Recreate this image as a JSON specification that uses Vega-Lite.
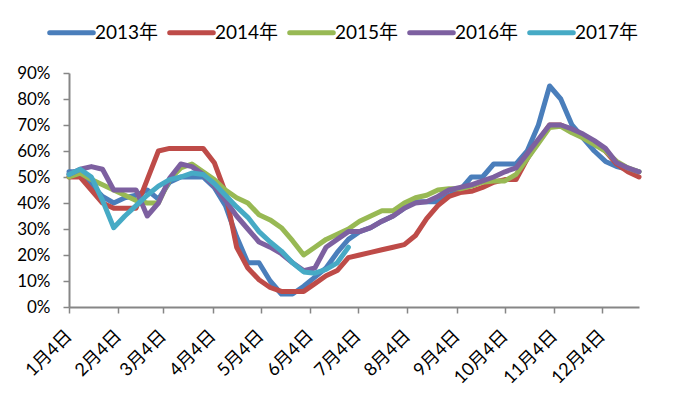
{
  "$schema": "https://vega.github.io/schema/vega-lite/v6.json",
  "width": 570,
  "height": 234,
  "autosize": "none",
  "padding": {"left": 69, "top": 73, "right": 41, "bottom": 99},
  "background": "white",
  "config": {
    "view": {"stroke": null},
    "font": "Lato",
    "axis": {
      "grid": false,
      "domainColor": "#868686",
      "domainWidth": 2,
      "tickColor": "#868686",
      "tickWidth": 1.5,
      "tickSize": 6,
      "labelColor": "#000000",
      "labelFont": "Lato, Noto Sans CJK SC",
      "labelFontSize": 17,
      "title": null
    }
  },
  "data": {
    "values": [
      {"date": "2001-01-04", "2013年": 52, "2014年": 50, "2015年": 50, "2016年": 51, "2017年": 51},
      {"date": "2001-01-11", "2013年": 52, "2014年": 50, "2015年": 51.5, "2016年": 53, "2017年": 53},
      {"date": "2001-01-18", "2013年": 47, "2014年": 45, "2015年": 49, "2016年": 54, "2017年": 50},
      {"date": "2001-01-25", "2013年": 42.5, "2014年": 40, "2015年": 47, "2016年": 53, "2017年": 41},
      {"date": "2001-02-01", "2013年": 40, "2014年": 38, "2015年": 45, "2016年": 45, "2017年": 30.5},
      {"date": "2001-02-08", "2013年": 42, "2014年": 38, "2015年": 43, "2016年": 45, "2017年": 35},
      {"date": "2001-02-15", "2013年": 43, "2014年": 38, "2015年": 41, "2016年": 45, "2017年": 39},
      {"date": "2001-02-22", "2013年": 45, "2014年": 49, "2015年": 40, "2016年": 35, "2017年": 43},
      {"date": "2001-03-01", "2013年": 41.5, "2014年": 60, "2015年": 40, "2016年": 40, "2017年": 46.5},
      {"date": "2001-03-08", "2013年": 48, "2014年": 61, "2015年": 49, "2016年": 49.5, "2017年": 49},
      {"date": "2001-03-15", "2013年": 50, "2014年": 61, "2015年": 53.5, "2016年": 55, "2017年": 50},
      {"date": "2001-03-22", "2013年": 50, "2014年": 61, "2015年": 55, "2016年": 54, "2017年": 51.5},
      {"date": "2001-03-29", "2013年": 50, "2014年": 61, "2015年": 52, "2016年": 51, "2017年": 51},
      {"date": "2001-04-05", "2013年": 46, "2014年": 55.5, "2015年": 49, "2016年": 46.5, "2017年": 47.5},
      {"date": "2001-04-12", "2013年": 39, "2014年": 44, "2015年": 45, "2016年": 41, "2017年": 43},
      {"date": "2001-04-19", "2013年": 27, "2014年": 23, "2015年": 42, "2016年": 35, "2017年": 38.5},
      {"date": "2001-04-26", "2013年": 17, "2014年": 15, "2015年": 40, "2016年": 30, "2017年": 34.5},
      {"date": "2001-05-03", "2013年": 17, "2014年": 10.5, "2015年": 35.5, "2016年": 25, "2017年": 29},
      {"date": "2001-05-10", "2013年": 10, "2014年": 7.5, "2015年": 33.5, "2016年": 23, "2017年": 25},
      {"date": "2001-05-17", "2013年": 5, "2014年": 6, "2015年": 30.5, "2016年": 20.5, "2017年": 21.5},
      {"date": "2001-05-24", "2013年": 5, "2014年": 6, "2015年": 25.5, "2016年": 17, "2017年": 17},
      {"date": "2001-05-31", "2013年": 8, "2014年": 6, "2015年": 20, "2016年": 14, "2017年": 13.5},
      {"date": "2001-06-07", "2013年": 11.5, "2014年": 9, "2015年": 23, "2016年": 15, "2017年": 13},
      {"date": "2001-06-14", "2013年": 15, "2014年": 12, "2015年": 26, "2016年": 23, "2017年": 14.5},
      {"date": "2001-06-21", "2013年": 21, "2014年": 14, "2015年": 28, "2016年": 26, "2017年": 17},
      {"date": "2001-06-28", "2013年": 26, "2014年": 19, "2015年": 30, "2016年": 29, "2017年": 23},
      {"date": "2001-07-05", "2013年": 29, "2014年": 20, "2015年": 33, "2016年": 29, "2017年": null},
      {"date": "2001-07-12", "2013年": 30.5, "2014年": 21, "2015年": 35, "2016年": 30.5, "2017年": null},
      {"date": "2001-07-19", "2013年": 33, "2014年": 22, "2015年": 37, "2016年": 33, "2017年": null},
      {"date": "2001-07-26", "2013年": 35, "2014年": 23, "2015年": 37, "2016年": 35, "2017年": null},
      {"date": "2001-08-02", "2013年": 38, "2014年": 24, "2015年": 40, "2016年": 38, "2017年": null},
      {"date": "2001-08-09", "2013年": 40.5, "2014年": 27.5, "2015年": 42, "2016年": 40, "2017年": null},
      {"date": "2001-08-16", "2013年": 40.5, "2014年": 34, "2015年": 43, "2016年": 40.5, "2017年": null},
      {"date": "2001-08-23", "2013年": 40.5, "2014年": 39, "2015年": 45, "2016年": 42.5, "2017年": null},
      {"date": "2001-08-30", "2013年": 43, "2014年": 42.5, "2015年": 45.5, "2016年": 45, "2017年": null},
      {"date": "2001-09-06", "2013年": 45, "2014年": 44, "2015年": 45.5, "2016年": 46, "2017年": null},
      {"date": "2001-09-13", "2013年": 50, "2014年": 44.5, "2015年": 46.5, "2016年": 47, "2017年": null},
      {"date": "2001-09-20", "2013年": 50, "2014年": 46, "2015年": 48, "2016年": 48.5, "2017年": null},
      {"date": "2001-09-27", "2013年": 55, "2014年": 48, "2015年": 48.5, "2016年": 50, "2017年": null},
      {"date": "2001-10-04", "2013年": 55, "2014年": 49, "2015年": 48.5, "2016年": 52, "2017年": null},
      {"date": "2001-10-11", "2013年": 55, "2014年": 49, "2015年": 51, "2016年": 53.5, "2017年": null},
      {"date": "2001-10-18", "2013年": 60, "2014年": 57, "2015年": 57, "2016年": 59, "2017年": null},
      {"date": "2001-10-25", "2013年": 70, "2014年": 64, "2015年": 63, "2016年": 64.5, "2017年": null},
      {"date": "2001-11-01", "2013年": 85, "2014年": 70, "2015年": 69, "2016年": 70, "2017年": null},
      {"date": "2001-11-08", "2013年": 80, "2014年": 70, "2015年": 69.5, "2016年": 70, "2017年": null},
      {"date": "2001-11-15", "2013年": 70, "2014年": 68, "2015年": 67, "2016年": 68.5, "2017年": null},
      {"date": "2001-11-22", "2013年": 65, "2014年": 66, "2015年": 65, "2016年": 66.5, "2017年": null},
      {"date": "2001-11-29", "2013年": 60, "2014年": 63, "2015年": 62.5, "2016年": 64, "2017年": null},
      {"date": "2001-12-06", "2013年": 56, "2014年": 60, "2015年": 60, "2016年": 61, "2017年": null},
      {"date": "2001-12-13", "2013年": 54, "2014年": 55, "2015年": 56, "2016年": 55.5, "2017年": null},
      {"date": "2001-12-20", "2013年": 53, "2014年": 52, "2015年": 53.5, "2016年": 53.5, "2017年": null},
      {"date": "2001-12-27", "2013年": 52, "2014年": 50, "2015年": 52, "2016年": 52, "2017年": null}
    ]
  },
  "transform": [
    {"fold": ["2013年", "2014年", "2015年", "2016年", "2017年"], "as": ["series", "value"]},
    {"filter": "isValid(datum.value)"}
  ],
  "mark": {"type": "line", "strokeWidth": 5, "strokeJoin": "round", "strokeCap": "round"},
  "encoding": {
    "x": {
      "field": "date",
      "type": "temporal",
      "scale": {
        "type": "utc",
        "domain": [
          {"year": 2001, "month": 1, "date": 4, "utc": true},
          {"year": 2001, "month": 12, "date": 27, "utc": true}
        ]
      },
      "axis": {
        "values": [
          {"year": 2001, "month": 1, "date": 4, "utc": true},
          {"year": 2001, "month": 2, "date": 4, "utc": true},
          {"year": 2001, "month": 3, "date": 4, "utc": true},
          {"year": 2001, "month": 4, "date": 4, "utc": true},
          {"year": 2001, "month": 5, "date": 4, "utc": true},
          {"year": 2001, "month": 6, "date": 4, "utc": true},
          {"year": 2001, "month": 7, "date": 4, "utc": true},
          {"year": 2001, "month": 8, "date": 4, "utc": true},
          {"year": 2001, "month": 9, "date": 4, "utc": true},
          {"year": 2001, "month": 10, "date": 4, "utc": true},
          {"year": 2001, "month": 11, "date": 4, "utc": true},
          {"year": 2001, "month": 12, "date": 4, "utc": true}
        ],
        "labelExpr": "utcFormat(datum.value, '%-m月%-d日')",
        "labelAngle": -45,
        "labelAlign": "right",
        "labelBaseline": "middle",
        "labelPadding": 20,
        "labelFontSize": 18,
        "labelOverlap": false
      }
    },
    "y": {
      "field": "value",
      "type": "quantitative",
      "scale": {"domain": [0, 90], "nice": false},
      "axis": {
        "values": [0, 10, 20, 30, 40, 50, 60, 70, 80, 90],
        "labelExpr": "datum.value + '%'",
        "labelPadding": 13
      }
    },
    "color": {
      "field": "series",
      "type": "nominal",
      "scale": {
        "domain": ["2013年", "2014年", "2015年", "2016年", "2017年"],
        "range": ["#4A7EBB", "#BE4B48", "#98B954", "#7D60A0", "#46AAC5"]
      },
      "legend": {
        "title": null,
        "orient": "none",
        "direction": "horizontal",
        "legendX": -22,
        "legendY": -65,
        "symbolType": "stroke",
        "symbolStrokeWidth": 5,
        "symbolSize": 1900,
        "labelFont": "Lato, Noto Sans CJK SC",
        "labelFontSize": 19,
        "labelColor": "#000000",
        "labelOffset": -1,
        "columnPadding": 0,
        "encode": {"symbols": {"update": {"strokeCap": {"value": "round"}}}}
      }
    }
  }
}
